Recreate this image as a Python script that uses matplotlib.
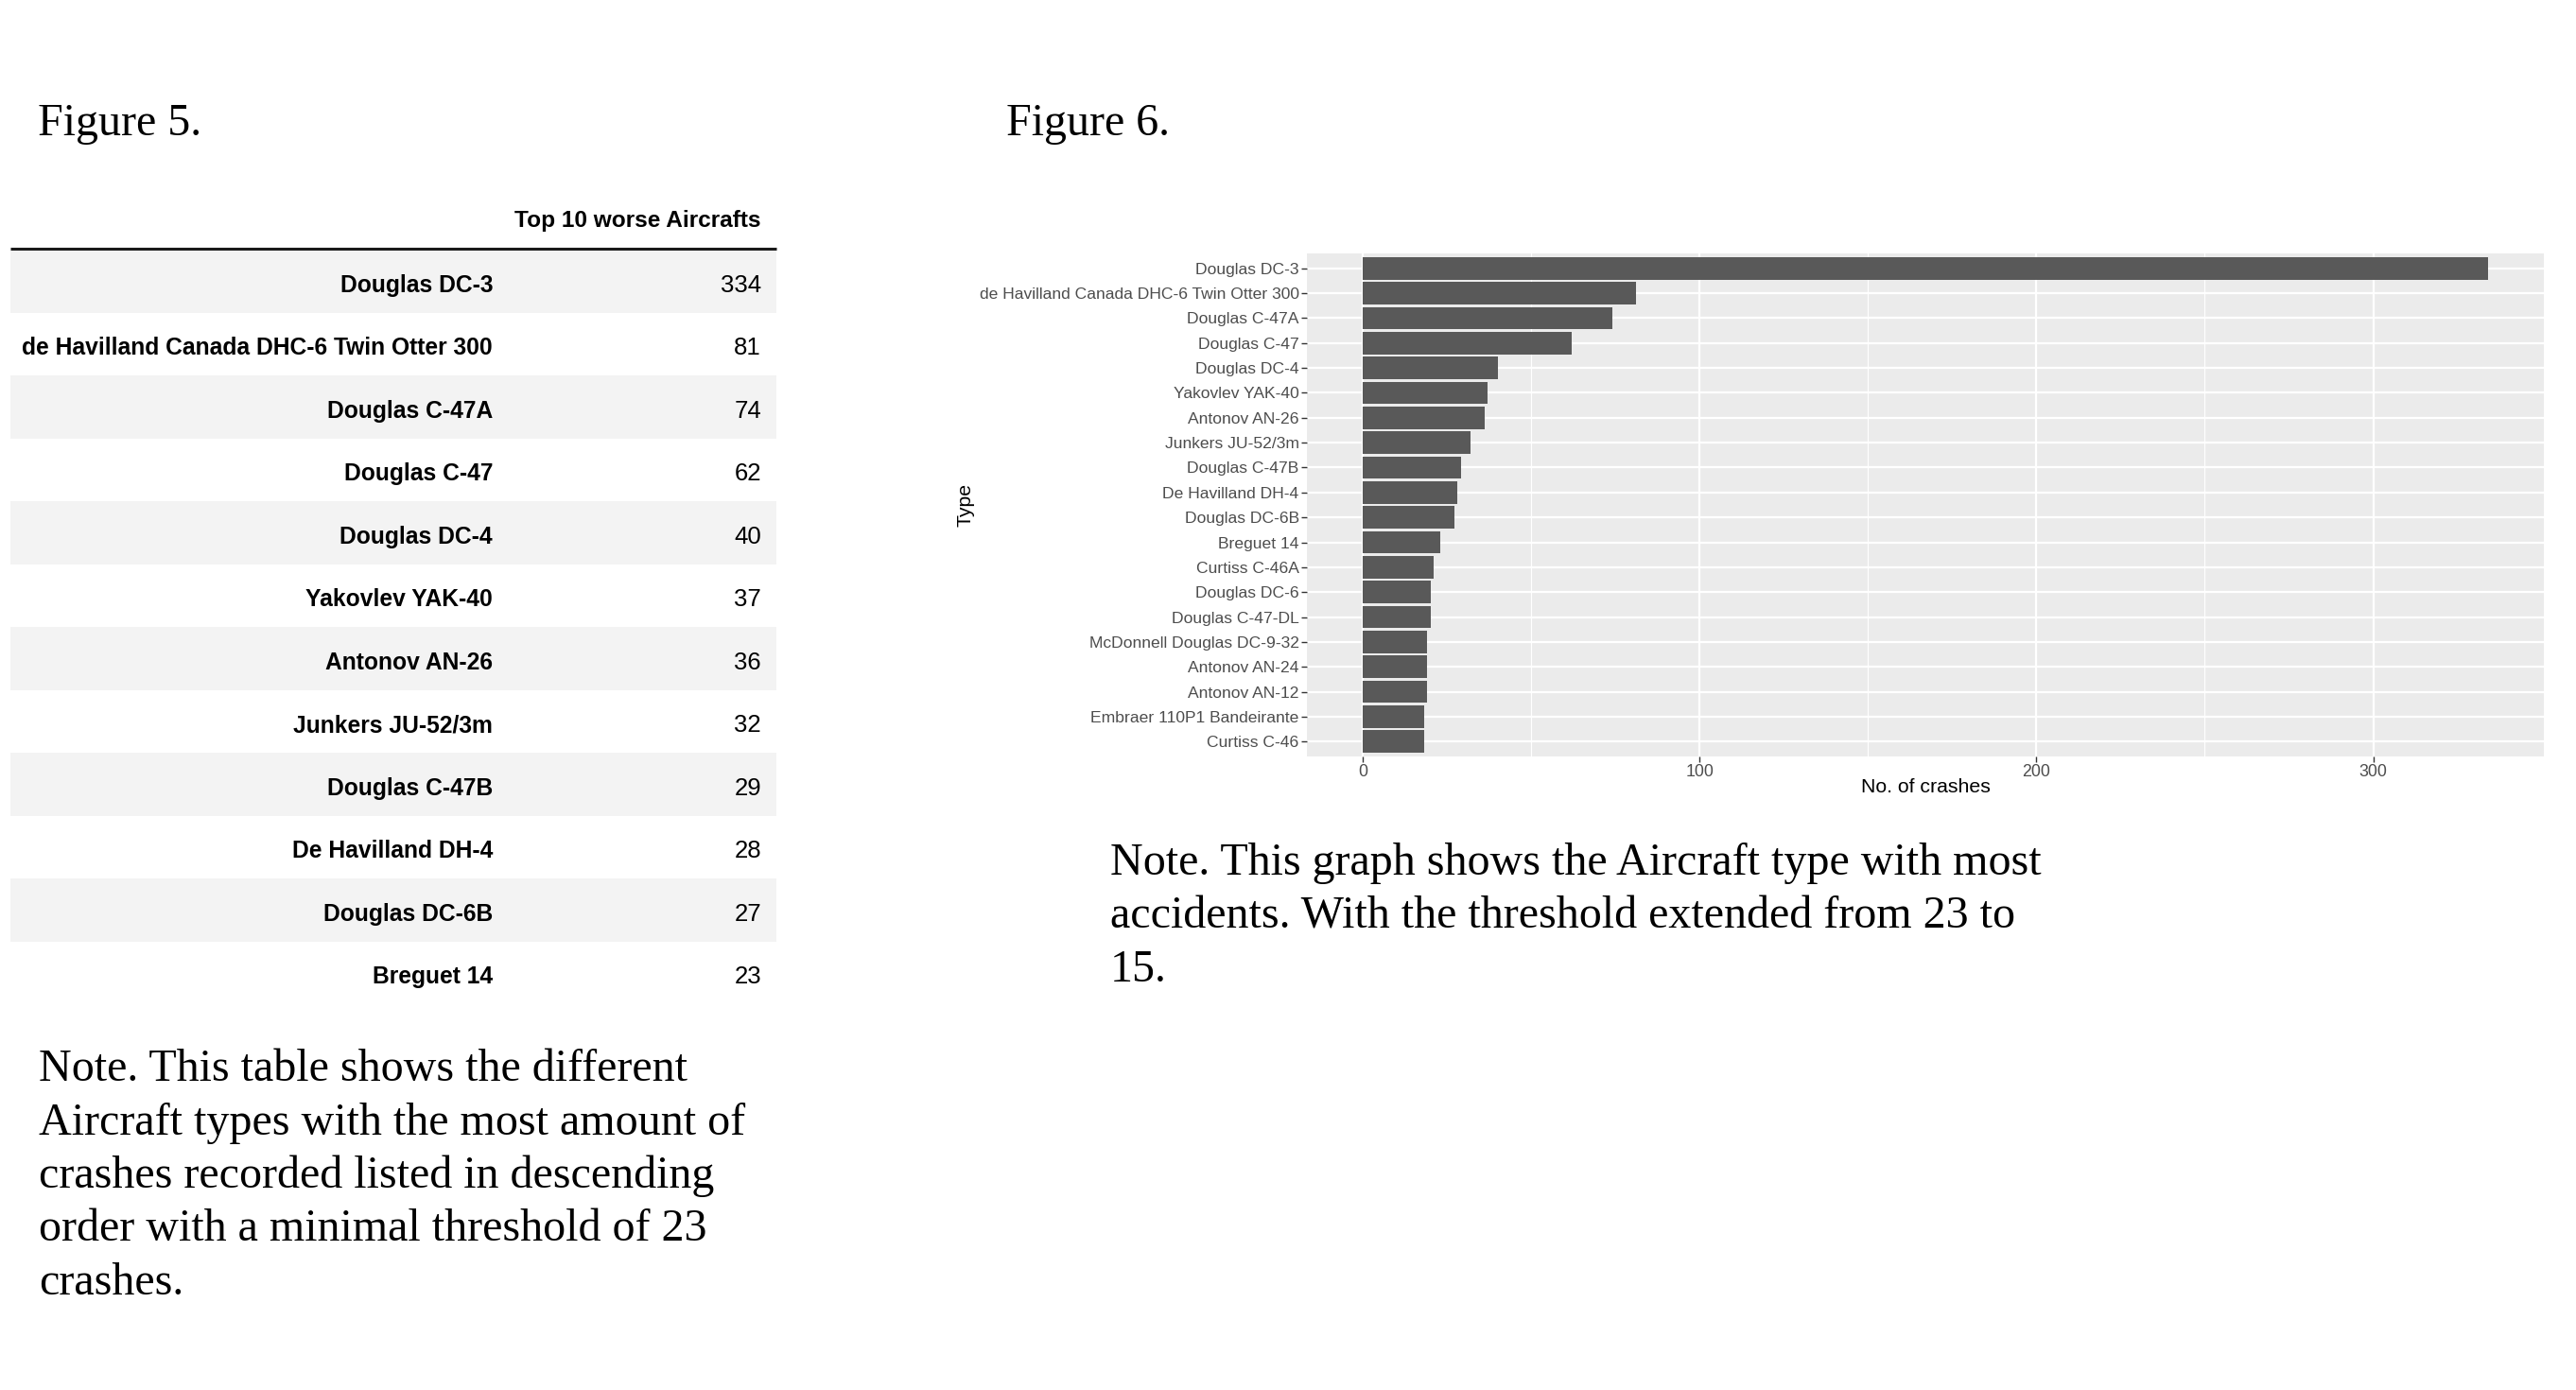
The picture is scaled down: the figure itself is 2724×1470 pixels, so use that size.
import matplotlib
matplotlib.use("Agg")
import matplotlib.pyplot as plt
from matplotlib.patches import Rectangle
from matplotlib.ticker import FixedLocator

# ---------------- data ----------------
table_title = "Top 10 worse Aircrafts"
table_types = ["Douglas DC-3", "de Havilland Canada DHC-6 Twin Otter 300",
               "Douglas C-47A", "Douglas C-47", "Douglas DC-4", "Yakovlev YAK-40",
               "Antonov AN-26", "Junkers JU-52/3m", "Douglas C-47B",
               "De Havilland DH-4", "Douglas DC-6B", "Breguet 14"]
table_counts = [334, 81, 74, 62, 40, 37, 36, 32, 29, 28, 27, 23]

chart_types = ["Douglas DC-3", "de Havilland Canada DHC-6 Twin Otter 300",
               "Douglas C-47A", "Douglas C-47", "Douglas DC-4", "Yakovlev YAK-40",
               "Antonov AN-26", "Junkers JU-52/3m", "Douglas C-47B",
               "De Havilland DH-4", "Douglas DC-6B", "Breguet 14",
               "Curtiss C-46A", "Douglas DC-6", "Douglas C-47-DL",
               "McDonnell Douglas DC-9-32", "Antonov AN-24", "Antonov AN-12",
               "Embraer 110P1 Bandeirante", "Curtiss C-46"]
chart_counts = [334, 81, 74, 62, 40, 37, 36, 32, 29, 28, 27, 23,
                21, 20, 20, 19, 19, 19, 18, 18]
x_ticks = [0, 100, 200, 300]
x_minor = [50, 150, 250]

fig5_label = "Figure 5."
fig6_label = "Figure 6."
note5_lines = ["Note. This table shows the different",
               "Aircraft types with the most amount of",
               "crashes recorded listed in descending",
               "order with a minimal threshold of 23",
               "crashes."]
note6_lines = ["Note. This graph shows the Aircraft type with most",
               "accidents. With the threshold extended from 23 to",
               "15."]

# ---------------- layout ----------------
W, H = 2724, 1470
DPI = 100
fig = plt.figure(figsize=(W / DPI, H / DPI), dpi=DPI, facecolor="white")

serif = ["Liberation Serif", "DejaVu Serif"]
narrow = ["Liberation Sans", "DejaVu Sans"]
sans = ["Liberation Sans", "DejaVu Sans"]

ov = fig.add_axes([0, 0, 1, 1])
ov.set_xlim(0, W)
ov.set_ylim(H, 0)
ov.axis("off")

# figure labels
ov.text(40, 143, fig5_label, family=serif, fontsize=34.6, color="black", va="baseline", ha="left")
ov.text(1064, 143, fig6_label, family=serif, fontsize=34.6, color="black", va="baseline", ha="left")

# ---------------- table ----------------
tbl_left, tbl_right = 11, 821
lab_right, val_right = 521, 805
row_top0, row_h = 264, 66.5
tfs = 17.7
ov.text(val_right, 240, table_title, family=narrow, fontsize=17.6, fontweight="bold",
        color="black", ha="right", va="baseline")
ov.plot([tbl_left, tbl_right], [263, 263], color="#1a1a1a", lw=2.2, solid_capstyle="butt")
for i, (name, cnt) in enumerate(zip(table_types, table_counts)):
    top = row_top0 + i * row_h
    if i % 2 == 0:
        ov.add_patch(Rectangle((tbl_left, top), tbl_right - tbl_left, row_h,
                               facecolor="#f3f3f3", edgecolor="none", zorder=0))
    ov.text(lab_right, top + 44.5, name, family=narrow, fontsize=tfs, fontweight="bold",
            color="black", ha="right", va="baseline")
    ov.text(val_right, top + 44.5, str(cnt), family=narrow, fontsize=18.5,
            color="black", ha="right", va="baseline")

# notes
for k, line in enumerate(note5_lines):
    ov.text(41, 1143 + k * 56.5, line, family=serif, fontsize=34.6, color="black",
            ha="left", va="baseline")
for k, line in enumerate(note6_lines):
    ov.text(1174, 925 + k * 56.3, line, family=serif, fontsize=34.6, color="black",
            ha="left", va="baseline")

# ---------------- bar chart ----------------
pl, pr, pt, pb = 1382, 2690, 268, 800
ax = fig.add_axes([pl / W, 1 - pb / H, (pr - pl) / W, (pb - pt) / H])
ax.set_facecolor("#EBEBEB")
ypos = list(range(len(chart_types)))
ax.barh(ypos, chart_counts, height=0.9, color="#595959", zorder=3)
ax.set_ylim(len(chart_types) - 1 + 0.6, -0.6)
xmax = max(chart_counts)
ax.set_xlim(-0.05 * xmax, 1.05 * xmax)
ax.set_yticks(ypos)
ax.set_yticklabels(chart_types, family=sans, fontsize=12.6, color="#4D4D4D")
ax.set_xticks(x_ticks)
ax.set_xticklabels([str(v) for v in x_ticks], family=sans, fontsize=12.8, color="#4D4D4D")
ax.xaxis.set_minor_locator(FixedLocator(x_minor))
ax.tick_params(axis="both", which="major", length=4, width=1.0, color="#333333", pad=2)
ax.tick_params(axis="x", which="minor", length=0)
ax.set_axisbelow(True)
ax.grid(which="major", axis="both", color="white", lw=1.6, zorder=0)
ax.grid(which="minor", axis="x", color="white", lw=0.8, zorder=0)
for s in ax.spines.values():
    s.set_visible(False)
ax.set_xlabel("No. of crashes", family=sans, fontsize=15.3, color="black")
ax.set_ylabel("Type", family=sans, fontsize=15.3, color="black")
ax.xaxis.set_label_coords(0.5, -(823 - pb) / (pb - pt))
ax.yaxis.set_label_coords((1031 - pl) / (pr - pl), 0.5)

fig.savefig("out.png", dpi=DPI, facecolor="white")
